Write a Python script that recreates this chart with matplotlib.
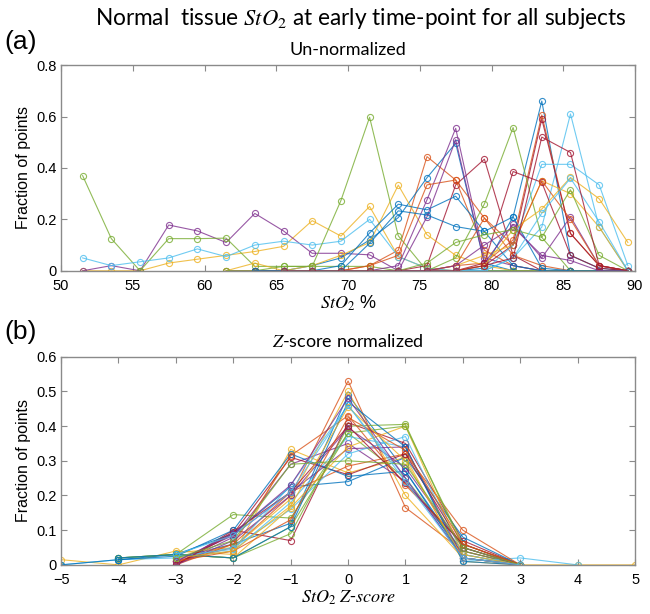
import numpy as np
import matplotlib
matplotlib.use("Agg")
import matplotlib.pyplot as plt

plt.rcParams['font.family'] = ['Liberation Sans', 'DejaVu Sans']
plt.rcParams['mathtext.fontset'] = 'stix'

n = np.nan

# MATLAB default colour order
colors = ['#0072BD', '#D95319', '#EDB120', '#7E2F8E', '#77AC30', '#4DBEEE', '#A2142F']

# (a) un-normalized histograms, bin centres 51.5 ... 89.5
sto2_bins = np.arange(51.5, 90, 2)
raw_hist = [
    # blue
    [n, n, n, n, n, n, n, 0, 0, 0, 0, 0, 0, 0, 0.01, 0.21, 0.66, 0.06, 0.01, 0],
    # orange
    [n, n, n, n, n, n, 0, 0, 0, 0, 0.02, 0.08, 0.444, 0.353, 0.08, 0.02, 0, 0, 0, 0],
    # yellow
    [0, 0, 0, 0.03, 0.045, 0.06, 0.075, 0.095, 0.195, 0.135, 0.25, 0.055, 0.01, 0, 0, 0, 0, 0, 0, 0],
    # purple
    [0, 0.02, 0, 0.178, 0.155, 0.11, 0.223, 0.155, 0.068, 0.068, 0.062, 0, 0, 0, 0, 0, 0, 0, 0, 0],
    # green
    [0.37, 0.125, 0, 0.125, 0.125, 0.127, 0.017, 0.017, 0.017, 0.017, 0.017, 0, 0, 0, 0, 0, 0, n, n, n],
    # light blue
    [0.05, 0.02, 0.035, 0.05, 0.085, 0.055, 0.1, 0.115, 0.1, 0.115, 0.2, 0.055, 0.01, 0, 0, 0, 0, 0, 0, 0],
    # red
    [n, n, n, n, n, 0, 0, 0, 0, 0, 0, 0, 0.02, 0.334, 0.434, 0.06, 0, 0, 0, 0],
    # blue
    [n, n, n, n, n, n, 0, 0, 0.02, 0.05, 0.12, 0.207, 0.362, 0.496, 0.03, 0, 0, 0, 0, 0],
    # orange
    [n, n, n, n, n, n, n, 0, 0, 0, 0, 0, 0, 0.02, 0.03, 0.12, 0.606, 0.145, 0.02, 0],
    # yellow
    [n, n, n, n, n, 0, 0.03, 0, 0.02, 0.06, 0.11, 0.333, 0.14, 0.06, 0.02, 0, 0, 0, 0, 0],
    # purple
    [n, n, n, n, n, n, 0, 0, 0, 0, 0, 0.02, 0.276, 0.554, 0.05, 0.02, 0, 0, 0, 0],
    # green
    [n, n, n, n, n, 0, 0, 0.017, 0.017, 0.273, 0.597, 0.136, 0, 0, 0, 0, 0, 0, 0, 0],
    # light blue
    [n, n, n, n, n, n, n, 0, 0, 0, 0, 0, 0, 0, 0, 0.05, 0.17, 0.61, 0.17, 0],
    # red
    [n, n, n, n, n, n, n, 0, 0, 0, 0, 0, 0, 0, 0.02, 0.1, 0.59, 0.145, 0.02, 0],
    # blue
    [n, n, n, n, n, n, 0, 0, 0, 0.02, 0.147, 0.259, 0.237, 0.29, 0.153, 0.02, 0, 0, 0, 0],
    # orange
    [n, n, n, n, n, n, 0, 0, 0, 0, 0.02, 0.06, 0.334, 0.353, 0.205, 0.06, 0.02, 0, 0, 0],
    # yellow
    [n, n, n, n, n, n, n, 0, 0, 0, 0, 0, 0, 0.02, 0.06, 0.1, 0.35, 0.3, 0.17, 0],
    # purple
    [n, n, n, n, n, n, n, 0, 0, 0, 0, 0, 0.21, 0.51, 0.03, 0.18, 0.05, 0.21, 0.02, 0],
    # green
    [n, n, n, n, n, n, n, 0, 0, 0, 0, 0, 0, 0.05, 0.26, 0.557, 0.13, 0, 0, 0],
    # light blue
    [n, n, n, n, n, n, n, 0, 0, 0, 0, 0, 0, 0, 0, 0.1, 0.414, 0.414, 0.334, 0.02],
    # red
    [n, n, n, n, n, n, n, 0, 0, 0, 0, 0, 0, 0, 0.03, 0.386, 0.344, 0.06, 0.01, 0],
    # blue
    [n, n, n, n, n, n, 0, 0, 0, 0, 0.107, 0.233, 0.217, 0.172, 0.153, 0.21, 0.01, 0, 0, 0],
    # orange
    [n, n, n, n, n, n, n, 0, 0, 0, 0, 0, 0, 0.02, 0.205, 0.1, 0.35, 0.2, 0.02, 0],
    # yellow
    [n, n, n, n, n, n, n, 0, 0, 0, 0, 0, 0, 0, 0.02, 0.16, 0.24, 0.363, 0.28, 0.11],
    # purple
    [n, n, n, n, n, n, n, 0, 0, 0, 0, 0, 0, 0.02, 0.1, 0.17, 0.06, 0.04, 0, 0],
    # green
    [n, n, n, n, n, n, n, 0, 0, 0, 0, 0, 0.03, 0.11, 0.14, 0.16, 0.13, 0.315, 0.06, 0],
    # light blue
    [n, n, n, n, n, n, n, 0, 0, 0, 0, 0, 0, 0, 0, 0.05, 0.224, 0.36, 0.19, 0],
    # red
    [n, n, n, n, n, n, n, 0, 0, 0, 0, 0, 0, 0, 0.02, 0.05, 0.52, 0.46, 0.02, 0],
]

# (b) z-score normalized histograms, bin centres -5 ... 5
z_bins = np.arange(-5, 6)
z_hist = [
    [n, n, 0.02, 0.06, 0.12, 0.49, 0.27, 0.03, 0, n, n],
    [n, n, 0.01, 0.05, 0.2, 0.53, 0.165, 0.04, 0, n, n],
    [0.015, 0, 0.04, 0.03, 0.333, 0.265, 0.31, 0.01, 0, 0, 0],
    [n, n, 0, 0.08, 0.29, 0.35, 0.24, 0.04, 0, n, n],
    [n, 0.02, 0.03, 0.145, 0.135, 0.38, 0.25, 0.04, 0, n, n],
    [0, 0.015, 0.02, 0.04, 0.18, 0.37, 0.34, 0.01, 0.02, 0, n],
    [n, n, 0, 0.1, 0.07, 0.41, 0.35, 0.07, 0, n, n],
    [0, 0.015, 0.03, 0.09, 0.225, 0.24, 0.31, 0.08, 0, n, n],
    [n, n, 0.01, 0.06, 0.21, 0.285, 0.32, 0.1, 0, n, n],
    [n, n, 0.035, 0.05, 0.19, 0.5, 0.2, 0.02, 0, n, n],
    [n, n, 0.01, 0.085, 0.21, 0.335, 0.34, 0.02, 0, n, n],
    [n, 0.02, 0.03, 0.02, 0.09, 0.4, 0.405, 0.05, 0, n, n],
    [n, n, 0.02, 0.05, 0.16, 0.32, 0.37, 0.03, 0, n, n],
    [n, n, 0, 0.09, 0.31, 0.26, 0.32, 0.05, 0, n, n],
    [n, 0.015, 0.025, 0.1, 0.32, 0.255, 0.27, 0.02, 0, n, n],
    [n, n, 0, 0.06, 0.315, 0.43, 0.23, 0.06, 0, n, n],
    [n, n, 0.03, 0.02, 0.165, 0.34, 0.4, 0.03, 0, n, n],
    [n, n, 0, 0.07, 0.2, 0.395, 0.28, 0.05, 0, n, n],
    [n, 0.02, 0.03, 0.02, 0.11, 0.38, 0.4, 0.06, 0, n, n],
    [n, n, 0.025, 0.045, 0.23, 0.46, 0.25, 0.02, 0, n, n],
    [n, n, 0, 0.095, 0.21, 0.4, 0.235, 0.06, 0, n, n],
    [n, 0.02, 0.03, 0.02, 0.11, 0.47, 0.34, 0.01, 0, n, n],
    [n, n, 0.01, 0.04, 0.13, 0.425, 0.33, 0.06, 0, n, n],
    [n, n, 0.02, 0.04, 0.17, 0.455, 0.3, 0.02, 0, n, n],
    [n, n, 0.01, 0.09, 0.23, 0.48, 0.25, 0.02, 0, n, n],
    [n, n, 0.02, 0.07, 0.29, 0.3, 0.29, 0.05, 0, n, n],
    [n, n, 0.03, 0.085, 0.21, 0.46, 0.24, 0.02, 0, n, n],
]

title_font = ['Lato', 'DejaVu Sans']
gray = '#8a8a8a'


def style_axes(ax):
    for s in ax.spines.values():
        s.set_color(gray)
        s.set_linewidth(1.0)
    ax.tick_params(direction='in', top=True, right=True, length=4,
                   color=gray, labelsize=10.5)
    ax.tick_params(axis='x', pad=6)
    ax.tick_params(axis='y', pad=3)


def draw(ax, x, series):
    for i, ys in enumerate(series):
        ax.plot(x, ys, '-o', color=colors[i % 7], lw=0.8, ms=4.4,
                mfc='none', mew=0.8, alpha=0.8)


fig = plt.figure(figsize=(6.5, 6.14), dpi=100)

ax1 = fig.add_axes([0.094, 0.559, 0.883, 0.335])
draw(ax1, sto2_bins, raw_hist)
ax1.set_xlim(50, 90)
ax1.set_ylim(0, 0.8)
ax1.set_xticks(range(50, 91, 5))
ax1.set_yticks([0, 0.2, 0.4, 0.6, 0.8])
ax1.set_yticklabels(['0', '0.2', '0.4', '0.6', '0.8'])
style_axes(ax1)
ax1.set_ylabel('Fraction of points', fontsize=11.5, labelpad=4)
ax1.set_xlabel('$StO_2$ %', fontsize=13, labelpad=0)
ax1.set_title('Un-normalized', fontsize=13, family=title_font, pad=7)

ax2 = fig.add_axes([0.094, 0.080, 0.883, 0.339])
draw(ax2, z_bins, z_hist)
ax2.set_xlim(-5, 5)
ax2.set_ylim(0, 0.6)
ax2.set_xticks(range(-5, 6))
ax2.set_yticks([0, 0.1, 0.2, 0.3, 0.4, 0.5, 0.6])
ax2.set_yticklabels(['0', '0.1', '0.2', '0.3', '0.4', '0.5', '0.6'])
style_axes(ax2)
ax2.set_ylabel('Fraction of points', fontsize=11.5, labelpad=4)
ax2.set_xlabel('$StO_2\\ Z$-$score$', fontsize=13, labelpad=1)
ax2.set_title('$Z$-score normalized', fontsize=13, family=title_font, pad=7)

fig.text(0.555, 0.970, 'Normal  tissue $StO_2$ at early time-point for all subjects',
         ha='center', va='center', fontsize=16.3, family=title_font)
fig.text(0.006, 0.932, '(a)', fontsize=19, ha='left', va='center')
fig.text(0.006, 0.460, '(b)', fontsize=19, ha='left', va='center')

fig.savefig('out.png', dpi=100)
